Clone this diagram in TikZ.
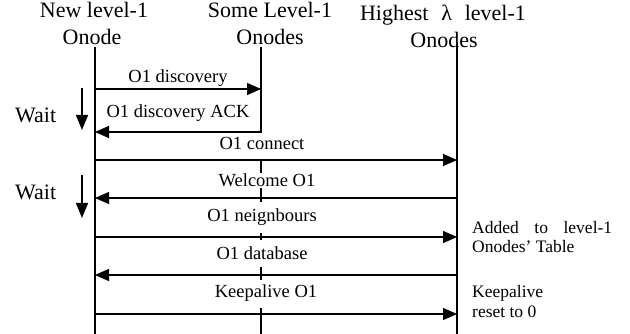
\documentclass[tikz,border=0pt]{standalone}
\usepackage{fontspec}
\setmainfont{Liberation Serif}
\usetikzlibrary{arrows.meta}
\begin{document}
\begin{tikzpicture}[x=1pt,y=-1pt,
  life/.style={line width=1.4pt},
  msg/.style={line width=1.4pt,-{Triangle[length=14pt,width=12pt]}},
  waitarrow/.style={line width=1.4pt,-{Triangle[length=15pt,width=12pt]}},
  head/.style={font=\fontsize{22}{26}\selectfont, anchor=base, inner sep=0pt},
  lbl/.style={font=\fontsize{18.5}{21}\selectfont, anchor=base, inner ysep=0pt, inner xsep=1pt, fill=white},
  note/.style={font=\fontsize{17.5}{19}\selectfont, anchor=base west, inner sep=0pt}]
\useasboundingbox (0,0) rectangle (630,334);
% headings
\node[head] (h1a) at (94,18) {New level-1};
\node[head] (h1b) at (92,45) {Onode};
\node[head] (h2a) at (270,18) {Some Level-1};
\node[head] (h2b) at (270,45) {Onodes};
\node[head] (h3a) at (443,21) {Highest\,\, λ\,\, level-1};
\node[head] (h3b) at (444,48) {Onodes};
% lifelines
\coordinate (L1t) at (95,47);  \coordinate (L1b) at (95,334);
\coordinate (L2t) at (261,47); \coordinate (L2b) at (261,334);
\coordinate (L3t) at (457,43); \coordinate (L3b) at (457,334);
\draw[life] (L1t) -- (L1b);
\draw[life] (L2t) -- (L2b);
\draw[life] (L3t) -- (L3b);
% message labels (white boxes hide the middle lifeline)
\node[lbl] (m1) at (178,83)  {O1 discovery};
\node[lbl] (m2) at (178,118) {O1 discovery ACK};
\node[lbl, text height=17pt, text depth=10pt] (m3) at (262,150) {O1 connect};
\node[lbl, text height=14pt, text depth=1pt]  (m4) at (267,187) {Welcome O1};
\node[lbl, text height=20pt, text depth=11pt] (m5) at (262,222) {O1 neignbours};
\node[lbl, text height=19pt, text depth=8pt]  (m6) at (262,259) {O1 database};
\node[lbl, text height=18pt, text depth=10pt] (m7) at (266,298) {Keepalive O1};
% message endpoints
\coordinate (a1) at (95,89);  \coordinate (b1) at (261,89);
\coordinate (a2) at (95,132); \coordinate (b2) at (261,132);
\coordinate (a3) at (95,160); \coordinate (c3) at (457,160);
\coordinate (a4) at (95,198); \coordinate (c4) at (457,198);
\coordinate (a5) at (95,237); \coordinate (c5) at (457,237);
\coordinate (a6) at (95,275); \coordinate (c6) at (457,275);
\coordinate (a7) at (95,314); \coordinate (c7) at (457,314);
\draw[msg] (a1) -- (b1);
\draw[msg] (b2) -- (a2);
\draw[msg] (a3) -- (c3);
\draw[msg] (c4) -- (a4);
\draw[msg] (a5) -- (c5);
\draw[msg] (c6) -- (a6);
\draw[msg] (a7) -- (c7);
% wait
\coordinate (w1s) at (82,88);  \coordinate (w1e) at (82,130);
\coordinate (w2s) at (82,175); \coordinate (w2e) at (82,218);
\draw[waitarrow] (w1s) -- (w1e);
\draw[waitarrow] (w2s) -- (w2e);
\node[head, anchor=base west] (wt1) at (15,123) {Wait};
\node[head, anchor=base west] (wt2) at (15,200) {Wait};
% notes
\node[note] (n1) at (472,234) {\makebox[140pt][l]{Added\hfill to\hfill level-1}};
\node[note] (n2) at (472,253) {Onodes’ Table};
\node[note] (n3) at (472,298) {Keepalive};
\node[note] (n4) at (472,317) {reset to 0};
\end{tikzpicture}
\end{document}
